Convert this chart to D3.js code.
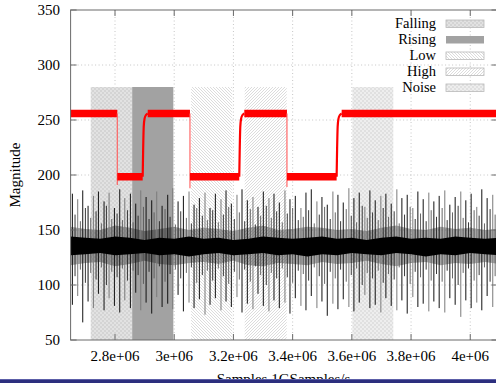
<!DOCTYPE html>
<html>
<head>
<meta charset="utf-8">
<script src="https://cdn.jsdelivr.net/npm/d3@7"></script>
<style>
  html, body { margin: 0; padding: 0; background: #fff; }
  svg { display: block; font-family: "Liberation Serif", "DejaVu Serif", serif; }
</style>
</head>
<body>
<svg id="chart" width="496" height="383"></svg>
<script>
// axis ticks
var xTicks =      [2.8e6, 3.0e6, 3.2e6, 3.4e6, 3.6e6, 3.8e6, 4.0e6]
var xTickLabels = ['2.8e+06', '3e+06', '3.2e+06', '3.4e+06', '3.6e+06', '3.8e+06', '4e+06']
var yTicks =      [50, 100, 150, 200, 250, 300, 350]

// labelled regions (samples)
var regionNames = ['Falling', 'Rising', 'Low', 'High', 'Noise']
var regionStart = [2.718e6, 2.858e6, 3.057e6, 3.238e6, 3.602e6]
var regionEnd =   [2.858e6, 2.997e6, 3.196e6, 3.380e6, 3.740e6]
var regionTop =   280

// red trace: segment borders and levels
var redEdges =  [2.648e6, 2.8077e6, 2.8935e6, 3.0532e6, 3.2197e6, 3.3808e6, 3.5486e6, 4.092e6]
var redLevels = [256, 198.5, 256, 198.5, 256, 198.5, 256]
var fallDip =   [191, 188, 189]
var riseOffsets = [0, 1500, 3500, 6500, 11000, 17000]
var riseValues =  [198.5, 222, 244, 251.5, 254.5, 256]

// black trace: dense band envelopes (Msamples)
var bandT =  [2.65, 2.70, 2.75, 2.80, 2.85, 2.90, 2.95, 3.00, 3.05, 3.10, 3.15, 3.20, 3.25, 3.30, 3.35,
              3.40, 3.45, 3.50, 3.55, 3.60, 3.65, 3.70, 3.75, 3.80, 3.85, 3.90, 3.95, 4.00, 4.05, 4.10]
var coreHi = [144,143,142,144,143,141,143,142,144,142, 143,141,142,144,143,142,143,144,142,143, 141,143,144,142,143,142,144,143,142,143]
var coreLo = [127,128,129,127,128,129,127,128,126,128, 129,127,128,129,127,128,126,128,127,129, 128,127,129,128,126,128,127,129,128,127]
var haloHi = [153,151,150,154,152,149,151,153,150,152, 151,149,152,154,150,151,153,152,150,151, 149,152,154,151,150,153,151,152,150,151]
var haloLo = [118,120,121,117,119,122,119,118,120,121, 119,122,118,117,120,119,118,121,119,120, 122,119,117,120,121,118,120,119,121,119]

// black trace: tall spikes (Msamples)
var spikeT = [2.656, 2.674, 2.691, 2.709, 2.727, 2.744, 2.763, 2.780, 2.798, 2.816,
              2.833, 2.852, 2.870, 2.887, 2.905, 2.924, 2.941, 2.959, 2.978, 2.995,
              3.013, 3.031, 3.050, 3.067, 3.085, 3.104, 3.121, 3.139, 3.158, 3.175,
              3.193, 3.212, 3.229, 3.247, 3.266, 3.283, 3.301, 3.320, 3.337, 3.355,
              3.374, 3.391, 3.409, 3.428, 3.445, 3.463, 3.482, 3.499, 3.517, 3.536,
              3.553, 3.571, 3.590, 3.607, 3.625, 3.644, 3.661, 3.679, 3.698, 3.715,
              3.733, 3.752, 3.769, 3.787, 3.806, 3.823, 3.841, 3.860, 3.877, 3.895,
              3.914, 3.931, 3.949, 3.968, 3.985, 4.003, 4.022, 4.039, 4.057, 4.076]
var spikeHi = [183,178,186,172,181,185,176,184,170,187, 179,183,174,186,180,177,185,172,182,188,
               176,181,185,173,179,184,170,183,178,186, 174,182,187,177,180,171,185,179,183,175,
               186,178,181,170,184,187,176,180,173,185, 182,175,188,179,184,171,186,177,181,183,
               174,187,179,182,170,185,178,184,176,181, 186,173,180,185,177,183,171,187,179,182]
var spikeLo = [82,90,66,85,79,92,77,88,81,75, 86,79,93,77,84,74,89,80,83,78,
               91,76,84,79,87,73,82,88,77,85, 80,89,75,83,78,92,81,76,86,79,
               84,74,88,81,77,90,79,85,72,83, 78,87,80,76,84,91,79,82,75,88,
               81,77,86,74,89,80,83,76,85,79, 75,88,82,71,86,79,84,77,90,80]

// black trace: medium hairs (Msamples)
var hairT = [2.665, 2.683, 2.700, 2.718, 2.736, 2.754, 2.771, 2.789, 2.807, 2.825,
             2.842, 2.861, 2.878, 2.896, 2.915, 2.932, 2.950, 2.969, 2.986, 3.004,
             3.022, 3.041, 3.058, 3.076, 3.095, 3.112, 3.130, 3.149, 3.166, 3.184,
             3.203, 3.220, 3.238, 3.257, 3.274, 3.292, 3.311, 3.328, 3.346, 3.365,
             3.382, 3.400, 3.419, 3.436, 3.454, 3.473, 3.490, 3.508, 3.527, 3.544,
             3.562, 3.581, 3.598, 3.616, 3.635, 3.652, 3.670, 3.689, 3.706, 3.724,
             3.743, 3.760, 3.778, 3.797, 3.814, 3.832, 3.851, 3.868, 3.886, 3.905,
             3.922, 3.940, 3.959, 3.976, 3.994, 4.013, 4.030, 4.048, 4.067, 4.084]
var hairHi = [164,158,170,161,167,156,172,160,165,159, 168,157,163,171,160,166,158,169,162,155,
              167,161,156,170,163,159,168,157,164,171, 160,166,158,169,155,163,172,161,167,157,
              165,170,159,162,168,156,164,171,160,166, 158,169,163,157,172,161,166,159,170,162,
              167,156,164,171,160,165,158,168,162,170, 159,166,172,161,157,168,163,156,169,164]
var hairLo = [108,114,102,111,105,116,100,112,107,115, 104,113,109,101,112,106,117,103,110,114,
              106,111,116,102,109,113,104,115,108,101, 112,105,114,103,117,109,100,111,106,115,
              107,102,113,110,104,116,108,101,112,106, 114,103,109,115,100,111,106,113,102,110,
              105,116,108,101,112,107,114,104,110,103, 113,106,100,111,115,104,109,116,103,108]


var svg =    d3.select('#chart')
var pLeft =  70.6, pRight = 497.5, pTop = 10, pBottom = 340
var x =      d3.scaleLinear().domain([2.65e6, 4.092e6]).range([pLeft, pRight])
var y =      d3.scaleLinear().domain([50, 350]).range([pBottom, pTop])
var axisColor = '#6a6a6a'

// patterns
var defs = svg.append('defs')
function checker(id, base, light) {
    var p = defs.append('pattern').attr('id', id).attr('patternUnits', 'userSpaceOnUse')
        .attr('width', 4).attr('height', 4)
    p.append('rect').attr('width', 4).attr('height', 4).attr('fill', base)
    p.append('rect').attr('width', 2).attr('height', 2).attr('fill', light)
    p.append('rect').attr('x', 2).attr('y', 2).attr('width', 2).attr('height', 2).attr('fill', light)
}
function hatch(id, dir) {
    var p = defs.append('pattern').attr('id', id).attr('patternUnits', 'userSpaceOnUse')
        .attr('width', 3).attr('height', 3)
    p.append('rect').attr('width', 3).attr('height', 3).attr('fill', '#fff')
    var d = dir > 0 ? 'M-1,4 L4,-1 M-1,1 L1,-1 M2,4 L4,2' : 'M-1,-1 L4,4 M2,-1 L4,1 M-1,2 L1,4'
    p.append('path').attr('d', d).attr('stroke', '#c4c4c4').attr('stroke-width', 0.6)
}
checker('pFalling', '#d4d4d4', '#e2e2e2')
checker('pNoise', '#e0e0e0', '#eeeeee')
hatch('pLow', -1)
hatch('pHigh', 1)
var regionFill = ['url(#pFalling)', '#a2a2a2', 'url(#pLow)', 'url(#pHigh)', 'url(#pNoise)']

defs.append('clipPath').attr('id', 'plotClip').append('rect')
    .attr('x', pLeft).attr('y', pTop).attr('width', pRight - pLeft).attr('height', pBottom - pTop)

// grid
var grid = svg.append('g').attr('stroke', '#b8b8b8').attr('stroke-width', 0.8).attr('stroke-dasharray', '1,2.5')
xTicks.forEach(t => grid.append('line').attr('x1', x(t)).attr('x2', x(t)).attr('y1', pTop).attr('y2', pBottom))
yTicks.slice(1, -1).forEach(t => grid.append('line').attr('x1', pLeft).attr('x2', pRight).attr('y1', y(t)).attr('y2', y(t)))

var plot = svg.append('g').attr('clip-path', 'url(#plotClip)')

// regions
regionNames.forEach((n, i) => {
    plot.append('rect')
        .attr('x', x(regionStart[i])).attr('width', x(regionEnd[i]) - x(regionStart[i]))
        .attr('y', y(regionTop)).attr('height', pBottom - y(regionTop))
        .attr('fill', regionFill[i])
})

// black trace
var ms = v => x(v * 1e6)
var halo = d3.area().x((d, i) => ms(bandT[i])).y0((d, i) => y(haloLo[i])).y1((d, i) => y(haloHi[i]))
plot.append('path').attr('d', halo(bandT)).attr('fill', '#000').attr('opacity', 0.35)

hairT.forEach((t, i) => {
    plot.append('line').attr('x1', ms(t)).attr('x2', ms(t))
        .attr('y1', y(hairHi[i])).attr('y2', y(hairLo[i]))
        .attr('stroke', i % 2 ? '#555' : '#222').attr('stroke-width', 0.9)
})
spikeT.forEach((t, i) => {
    plot.append('line').attr('x1', ms(t)).attr('x2', ms(t))
        .attr('y1', y(spikeHi[i])).attr('y2', y(spikeLo[i]))
        .attr('stroke', i % 3 == 1 ? '#7a7a7a' : '#111').attr('stroke-width', 1)
})
var core = d3.area().x((d, i) => ms(bandT[i])).y0((d, i) => y(coreLo[i])).y1((d, i) => y(coreHi[i]))
plot.append('path').attr('d', core(bandT)).attr('fill', '#000')

// red trace
var red = plot.append('g')
var riseLine = d3.line().x(d => x(d[0])).y(d => y(d[1])).curve(d3.curveMonotoneX)
redLevels.forEach((lv, i) => {
    var s = redEdges[i], e = redEdges[i + 1]
    var rising = i > 0 && lv > redLevels[i - 1]
    if (rising) {
        var pts = riseOffsets.map((o, k) => [s + o, riseValues[k]])
        red.append('path').attr('d', riseLine(pts)).attr('fill', 'none')
            .attr('stroke', '#f00').attr('stroke-width', 2.2)
        s = s + riseOffsets[riseOffsets.length - 1]
    }
    red.append('line').attr('x1', x(s)).attr('x2', x(e)).attr('y1', y(lv)).attr('y2', y(lv))
        .attr('stroke', '#f00').attr('stroke-width', 7.5)
    if (i < redLevels.length - 1 && redLevels[i + 1] < lv) {
        var dip = fallDip[Math.floor(i / 2)]
        red.append('line').attr('x1', x(e)).attr('x2', x(e)).attr('y1', y(lv)).attr('y2', y(dip))
            .attr('stroke', '#ff5a5a').attr('stroke-width', 1.1)
    }
})

// frame and ticks
var frame = svg.append('g').attr('stroke', axisColor).attr('stroke-width', 1).attr('fill', 'none')
frame.append('rect').attr('x', pLeft).attr('y', pTop).attr('width', pRight - pLeft).attr('height', pBottom - pTop)
xTicks.forEach(t => {
    frame.append('line').attr('x1', x(t)).attr('x2', x(t)).attr('y1', pBottom).attr('y2', pBottom - 6)
    frame.append('line').attr('x1', x(t)).attr('x2', x(t)).attr('y1', pTop).attr('y2', pTop + 6)
})
yTicks.forEach(t => {
    frame.append('line').attr('x1', pLeft).attr('x2', pLeft + 6).attr('y1', y(t)).attr('y2', y(t))
    frame.append('line').attr('x1', pRight).attr('x2', pRight - 6).attr('y1', y(t)).attr('y2', y(t))
})

// tick labels
svg.append('g').selectAll('text').data(xTicks).join('text')
    .attr('x', d => x(d)).attr('y', 361).attr('text-anchor', 'middle')
    .attr('font-size', 15).text((d, i) => xTickLabels[i])
svg.append('g').selectAll('text').data(yTicks).join('text')
    .attr('x', 60).attr('y', d => y(d) + 5).attr('text-anchor', 'end')
    .attr('font-size', 15).text(d => d)

// axis titles
svg.append('text').attr('transform', 'translate(20,175) rotate(-90)')
    .attr('text-anchor', 'middle').attr('font-size', 15).text('Magnitude')
svg.append('text').attr('x', 283.5).attr('y', 384).attr('text-anchor', 'middle')
    .attr('font-size', 15).text('Samples 1GSamples/s')

// legend
var legend = svg.append('g')
regionNames.forEach((n, i) => {
    legend.append('text').attr('x', 436).attr('y', 27.7 + 16 * i).attr('text-anchor', 'end')
        .attr('font-size', 14.5).text(n)
    legend.append('rect').attr('x', 446).attr('y', 20 + 16 * i).attr('width', 38).attr('height', 7.5)
        .attr('fill', regionFill[i]).attr('stroke', i == 1 ? 'none' : '#b8b8b8').attr('stroke-width', 0.8)
})

// slide footer bar
svg.append('rect').attr('x', 0).attr('y', 379.5).attr('width', 496).attr('height', 4).attr('fill', '#2c2f7e')
svg.append('line').attr('x1', 0).attr('x2', 496).attr('y1', 379.5).attr('y2', 379.5)
    .attr('stroke', '#5c5fa8').attr('stroke-width', 1)
</script>
</body>
</html>
